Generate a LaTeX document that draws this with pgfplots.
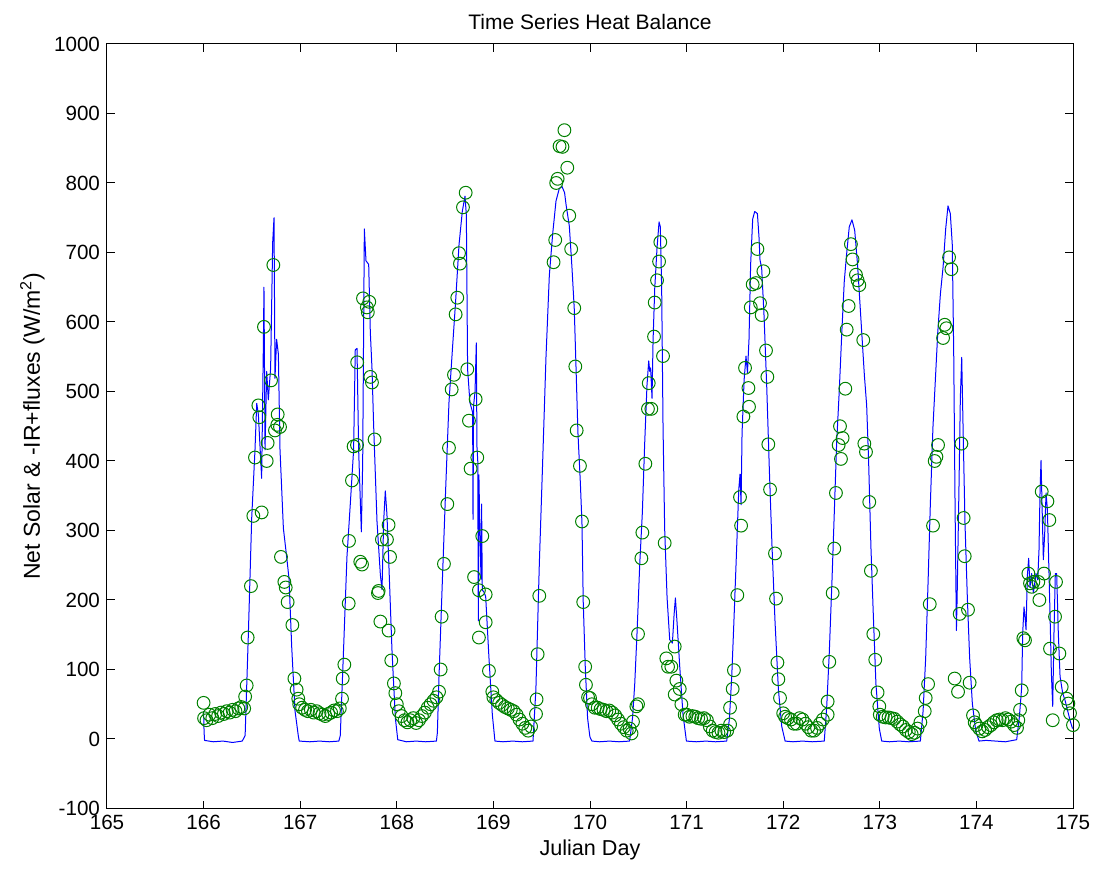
\documentclass[border=0pt]{standalone}
\usepackage{fontspec}
\setmainfont{Liberation Sans}
\usepackage{pgfplots}
\pgfplotsset{compat=1.18}
\definecolor{mblue}{rgb}{0,0,1}
\definecolor{mgreen}{rgb}{0,0.5,0}
\newcommand{\mfont}{\fontsize{10.3bp}{12bp}\selectfont}
\begin{document}
\begin{tikzpicture}
\begin{axis}[
  name=ax,
  scale only axis,
  width=483bp, height=382.25bp,
  xmin=165, xmax=175, ymin=-100, ymax=1000,
  xtick={165,166,...,175}, ytick={-100,0,100,...,1000},
  tick align=inside,
  major tick length=4bp,
  axis line style={line width=0.5bp},
  every tick/.style={line width=0.5bp, black},
  /pgf/number format/assume math mode=true,
  /pgf/number format/1000 sep={},
  ticklabel style={font=\mfont},
  xlabel={Julian Day},
  ylabel={Net Solar \& -IR+fluxes (W/m\textsuperscript{2})},
  xlabel style={font=\fontsize{10.8bp}{12bp}\selectfont, at={(axis description cs:0.5,0)}, anchor=base, yshift=-23.5bp},
  every axis y label/.style={font=\fontsize{11.5bp}{13bp}\selectfont, at={(axis description cs:-0.0694,0.5)}, rotate=90, anchor=base},
  title={Time Series Heat Balance},
  title style={font=\fontsize{10.5bp}{12bp}\selectfont, at={(axis description cs:0.5,1)}, anchor=base, yshift=1.5bp},
]
\addplot[mblue, line width=0.5bp, sharp plot, line join=round] coordinates {
(166.000,40)(166.005,10)(166.010,-2)(166.10,-4)(166.20,-3)(166.30,-5)(166.40,-3)
(166.43,5)(166.463,149)(166.498,318)(166.532,416)(166.55,483)(166.567,467)(166.601,375)
(166.618,560)(166.625,650)(166.636,416)(166.653,529)(166.67,488)(166.694,534)(166.715,714)
(166.729,750)(166.739,519)(166.756,575)(166.774,554)(166.791,416)(166.826,303)(166.86,262)
(166.884,231)(166.912,133)(166.946,41)(166.98,5)(166.99,-3)
(167.1,-4)(167.2,-3)(167.3,-4)(167.40,-3)
(167.415,5)(167.45,133)(167.484,262)(167.519,339)(167.553,416)(167.57,560)(167.588,562)
(167.605,416)(167.633,298)(167.647,400)(167.664,734)(167.681,688)(167.709,683)(167.726,585)
(167.743,534)(167.76,452)(167.795,313)(167.83,236)(167.847,215)(167.864,313)(167.881,357)
(167.898,323)(167.915,262)(167.95,128)(167.985,30)(168.01,-1)
(168.1,-4)(168.2,-3)(168.3,-4)(168.41,-3)
(168.42,9)(168.437,90)(168.471,225)(168.506,360)(168.54,484)(168.575,559)(168.609,630)
(168.644,711)(168.678,759)(168.706,781)(168.72,754)(168.733,532)(168.757,484)(168.785,470)
(168.789,316)(168.795,480)(168.81,500)(168.823,570)(168.83,420)(168.838,400)(168.844,170)
(168.85,380)(168.86,300)(168.872,230)(168.878,338)(168.885,214)(168.90,212)(168.92,205)
(168.954,117)(168.989,35)(169.016,-3)
(169.1,-4)(169.2,-3)(169.3,-4)(169.41,-3)
(169.44,72)(169.475,250)(169.51,399)(169.544,548)(169.579,667)(169.613,726)(169.648,774)
(169.682,792)(169.71,795)(169.737,786)(169.751,770)(169.786,738)(169.813,679)(169.837,619)
(169.855,536)(169.875,441)(169.9,369)(169.917,310)(169.93,197)(169.951,104)(169.975,30)
(169.999,3)(170.02,-3)
(170.1,-4)(170.2,-3)(170.3,-4)(170.41,-3)
(170.44,30)(170.463,79)(170.487,153)(170.515,252)(170.542,326)(170.566,425)(170.59,509)
(170.608,544)(170.618,529)(170.628,534)(170.642,490)(170.653,574)(170.67,648)(170.694,707)
(170.715,744)(170.728,737)(170.742,648)(170.756,450)(170.773,302)(170.798,203)(170.825,143)
(170.853,138)(170.87,178)(170.884,203)(170.901,168)(170.929,104)(170.963,35)(170.998,-3)
(171.1,-4)(171.2,-3)(171.3,-4)(171.415,-3)
(171.443,29)(171.467,89)(171.49,170)(171.519,278)(171.54,359)(171.553,381)(171.564,337)
(171.574,440)(171.595,516)(171.615,551)(171.63,527)(171.646,575)(171.663,683)(171.684,748)
(171.705,759)(171.733,756)(171.75,721)(171.76,689)(171.777,678)(171.802,608)(171.83,505)
(171.857,386)(171.884,278)(171.915,170)(171.95,72)(171.985,18)(172.02,-3)
(172.1,-4)(172.2,-3)(172.3,-4)(172.425,-3)
(172.45,45)(172.477,124)(172.505,228)(172.529,326)(172.553,425)(172.58,500)(172.608,589)
(172.632,658)(172.656,697)(172.684,737)(172.712,747)(172.74,732)(172.77,682)(172.805,603)
(172.84,524)(172.864,480)(172.884,401)(172.908,277)(172.933,178)(172.96,79)(172.995,15)
(173.02,-3)
(173.1,-4)(173.2,-3)(173.3,-4)(173.42,-3)
(173.448,40)(173.475,117)(173.5,227)(173.523,337)(173.55,448)(173.58,530)(173.6,585)
(173.627,640)(173.655,679)(173.682,734)(173.706,767)(173.73,756)(173.75,712)(173.765,558)
(173.779,337)(173.793,156)(173.80,200)(173.82,365)(173.834,492)(173.848,549)(173.862,448)
(173.882,310)(173.907,200)(173.93,117)(173.958,51)(173.993,12)(174.027,-3)
(174.1,-2)(174.2,-3)(174.3,-4)(174.417,-1)
(174.445,32)(174.469,75)(174.479,152)(174.493,190)(174.503,176)(174.514,157)(174.527,234)
(174.541,260)(174.555,219)(174.572,238)(174.59,210)(174.617,238)(174.635,229)(174.648,272)
(174.659,358)(174.669,401)(174.68,334)(174.693,258)(174.707,296)(174.721,354)(174.735,330)
(174.748,258)(174.762,181)(174.776,95)(174.79,47)(174.803,152)(174.817,238)(174.831,238)
(174.848,152)(174.866,90)(174.893,66)(174.917,56)(174.942,42)(174.969,27)(174.995,15)
};
\addplot[only marks, mark=o, mark size=3.2bp, mgreen, mark options={line width=0.5bp}] coordinates {
(166.00,52)(166.005,30)(166.03,27)(166.06,35)(166.09,30)(166.12,36)(166.15,33)(166.18,38)
(166.21,36)(166.24,40)(166.27,38)(166.30,42)(166.33,40)(166.36,44)(166.39,46)(166.42,44)
(166.43,61)(166.446,77)(166.456,146)(166.49,220)(166.515,321)(166.532,405)(166.567,480)
(166.577,463)(166.601,326)(166.625,593)(166.653,400)(166.663,426)(166.698,516)(166.722,682)
(166.739,444)(166.763,452)(166.767,467)(166.791,449)(166.801,262)(166.836,226)(166.85,218)
(166.87,197)(166.919,164)(166.94,87)(166.963,71)(166.98,58)
(166.99,50)(167.02,45)(167.05,42)(167.08,40)(167.11,42)(167.14,38)(167.17,40)(167.20,37)
(167.23,35)(167.26,33)(167.29,36)(167.32,38)(167.35,41)(167.38,40)(167.41,44)
(167.433,58)(167.44,87)(167.457,107)(167.502,195)(167.505,285)(167.536,372)(167.553,421)
(167.588,423)(167.59,542)(167.622,255)(167.64,251)(167.65,634)(167.69,621)(167.70,614)
(167.715,629)(167.726,521)(167.743,513)(167.77,431)(167.805,210)(167.812,213)(167.83,169)
(167.846,287)(167.898,287)(167.915,308)(167.93,262)(167.915,156)(167.943,113)(167.97,80)
(167.985,66)
(168.00,50)(168.02,40)(168.05,33)(168.08,27)(168.11,24)(168.14,27)(168.17,30)(168.20,23)
(168.23,27)(168.26,33)(168.29,38)(168.32,45)(168.35,50)(168.38,55)(168.41,60)
(168.437,68)(168.454,100)(168.464,176)(168.488,252)(168.523,338)(168.54,419)(168.568,503)
(168.592,524)(168.609,611)(168.626,635)(168.644,699)(168.654,684)(168.685,765)(168.713,786)
(168.73,532)(168.747,458)(168.764,389)(168.80,233)(168.816,489)(168.833,405)(168.85,214)
(168.85,146)(168.885,292)(168.92,208)(168.92,168)(168.954,98)(168.989,68)
(169.0,60)(169.03,56)(169.06,52)(169.09,49)(169.12,46)(169.15,44)(169.18,42)(169.21,40)
(169.24,35)(169.27,28)(169.30,22)(169.33,16)(169.36,12)(169.39,18)
(169.441,36)(169.447,57)(169.458,122)(169.475,206)(169.623,686)(169.64,718)(169.65,800)
(169.665,806)(169.685,853)(169.715,852)(169.735,876)(169.765,822)(169.785,753)(169.805,705)
(169.837,620)(169.848,536)(169.862,444)(169.896,393)(169.917,313)(169.93,197)(169.95,104)
(169.958,78)(169.98,60)
(170.0,59)(170.02,50)(170.05,45)(170.08,45)(170.11,43)(170.14,42)(170.17,40)(170.20,41)
(170.23,38)(170.26,34)(170.29,28)(170.32,22)(170.35,17)(170.38,12)(170.41,15)(170.43,8)
(170.445,25)(170.48,47)(170.497,50)(170.497,151)(170.532,260)(170.542,297)(170.573,396)
(170.6,475)(170.608,512)(170.635,475)(170.663,579)(170.67,628)(170.694,660)(170.715,687)
(170.728,715)(170.756,551)(170.773,282)(170.79,116)(170.808,104)(170.842,104)(170.877,133)
(170.877,64)(170.894,84)(170.929,72)(170.946,50)(170.98,35)
(171.0,35)(171.03,32)(171.06,33)(171.09,32)(171.12,30)(171.15,29)(171.18,30)(171.21,27)
(171.24,18)(171.27,12)(171.30,10)(171.33,9)(171.36,12)(171.39,10)(171.42,12)
(171.45,21)(171.45,45)(171.477,72)(171.49,99)(171.525,207)(171.553,348)(171.564,307)
(171.588,464)(171.605,534)(171.64,505)(171.646,478)(171.664,621)(171.684,654)(171.719,656)
(171.733,705)(171.76,627)(171.777,610)(171.795,673)(171.822,559)(171.836,521)(171.846,424)
(171.864,359)(171.915,267)(171.926,202)(171.94,110)(171.95,86)(171.967,59)(172.0,37)
(172.02,32)(172.05,30)(172.08,28)(172.11,22)(172.14,22)(172.17,30)(172.20,28)(172.23,22)
(172.26,17)(172.29,12)(172.32,12)(172.35,16)(172.38,22)(172.41,28)
(172.46,35)(172.46,54)(172.477,111)(172.512,210)(172.529,274)(172.546,354)(172.574,423)
(172.588,450)(172.598,403)(172.615,433)(172.643,504)(172.657,589)(172.677,623)(172.701,712)
(172.718,690)(172.753,668)(172.77,660)(172.788,653)(172.829,574)(172.84,425)(172.857,413)
(172.891,341)(172.908,242)(172.933,151)(172.953,114)(172.977,67)(172.995,47)
(173.0,35)(173.03,32)(173.06,31)(173.09,31)(173.12,30)(173.15,29)(173.18,25)(173.21,21)
(173.24,18)(173.27,13)(173.30,10)(173.33,7)(173.36,9)(173.39,15)(173.42,24)
(173.465,40)(173.475,59)(173.5,79)(173.517,194)(173.551,307)(173.568,400)(173.586,406)
(173.603,423)(173.655,577)(173.672,596)(173.689,591)(173.717,693)(173.741,676)(173.775,87)
(173.81,68)(173.827,180)(173.845,425)(173.868,318)(173.879,263)(173.913,186)(173.93,81)
(173.965,34)(173.982,24)
(174.0,20)(174.03,15)(174.06,11)(174.09,13)(174.12,17)(174.15,20)(174.18,24)(174.21,27)
(174.24,28)(174.27,27)(174.30,30)(174.33,28)(174.36,25)(174.39,20)(174.42,16)
(174.434,27)(174.452,42)(174.469,70)(174.486,145)(174.503,142)(174.538,238)(174.555,224)
(174.572,219)(174.59,226)(174.641,226)(174.652,200)(174.676,356)(174.7,238)(174.735,342)
(174.755,315)(174.762,130)(174.79,27)(174.814,176)(174.824,226)(174.859,123)(174.883,75)
(174.934,58)(174.952,51)(174.969,37)(175.0,20)
};
\end{axis}
\pgfresetboundingbox
\path[use as bounding box] ([xshift=-53.5bp,yshift=-32.25bp]ax.south west) rectangle ([xshift=12bp,yshift=22bp]ax.north east);
\end{tikzpicture}
\end{document}
